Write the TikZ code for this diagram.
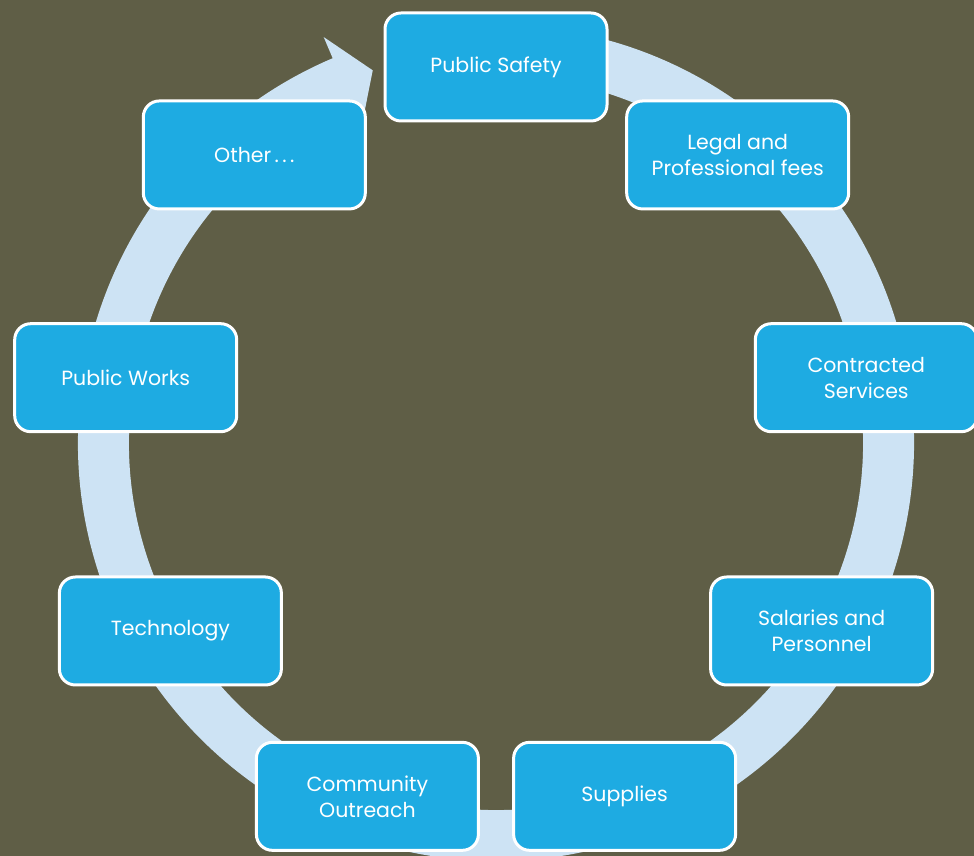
\documentclass[tikz,border=0pt]{standalone}
\usepackage{fontspec}
\setmainfont{Poppins}
\definecolor{bgolive}{RGB}{95,94,70}
\definecolor{ringblue}{RGB}{205,227,244}
\definecolor{boxblue}{RGB}{30,171,226}
\begin{document}
\begin{tikzpicture}[x=1pt,y=1pt,
  itembox/.style={draw=white, line width=3pt, fill=boxblue, rounded corners=16pt,
    minimum width=222pt, minimum height=108pt, text=white, align=center,
    font=\fontsize{20.5}{26}\selectfont, inner sep=2pt}]
\useasboundingbox (0,0) rectangle (974,856);
\fill[bgolive] (0,0) rectangle (974,856);
\clip (0,0) rectangle (974,856);
\coordinate (c) at (496,413);
% ring arrow
\fill[ringblue] ([shift={(80:418)}]c) arc[start angle=80, end angle=-247, radius=418]
  -- ([shift={(113:441)}]c) -- ([shift={(108.3:392.5)}]c) -- ([shift={(113:344)}]c)
  -- ([shift={(113:367)}]c) arc[start angle=-247, end angle=80, radius=367] -- cycle;
% boxes
\node[itembox] (ps) at ([shift={(90:376)}]c) {Public Safety};
\node[itembox] (legal) at ([shift={(50:376)}]c) {Legal and\\Professional fees};
\node[itembox] (contr) at ([shift={(10:376)}]c) {Contracted\\Services};
\node[itembox] (sal) at ([shift={(-30:376)}]c) {Salaries and\\Personnel};
\node[itembox] (sup) at ([shift={(-70:376)}]c) {Supplies};
\node[itembox] (comm) at ([shift={(-110:376)}]c) {Community\\Outreach};
\node[itembox] (tech) at ([shift={(-150:376)}]c) {Technology};
\node[itembox] (pw) at ([shift={(170:376)}]c) {Public Works};
\node[itembox] (other) at ([shift={(130:376)}]c) {Other\,.\,.\,.};
\end{tikzpicture}
\end{document}
